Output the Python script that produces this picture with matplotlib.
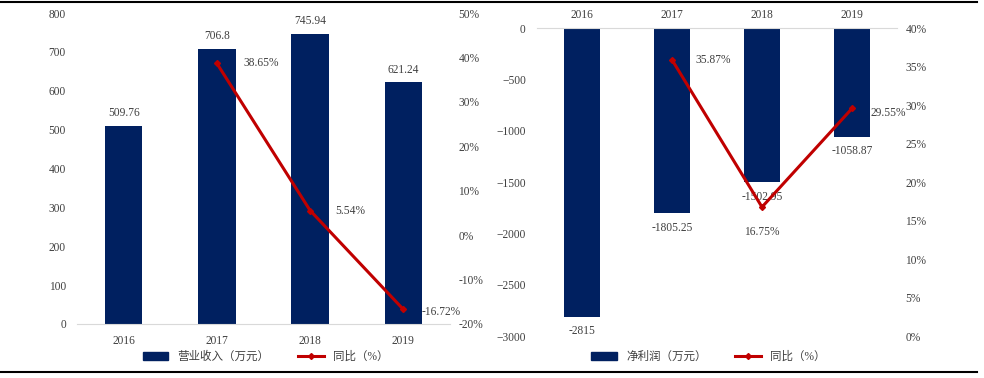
import matplotlib
matplotlib.use('Agg')
from matplotlib import pyplot as plt
from matplotlib.lines import Line2D
from matplotlib.patches import Patch
import numpy as np

plt.rcParams['font.family'] = ['Liberation Serif', 'Noto Sans CJK SC', 'DejaVu Sans']

years = ['2016', '2017', '2018', '2019']
revenue = [509.76, 706.8, 745.94, 621.24]
revenue_yoy = [None, 38.65, 5.54, -16.72]
profit = [-2815, -1805.25, -1502.95, -1058.87]
profit_yoy = [None, 35.87, 16.75, 29.55]

navy = '#002060'
red = '#C00000'
grey = '#D9D9D9'
txt = '#404040'
fs = 8.3

fig = plt.figure(figsize=(9.84, 3.78), dpi=100)
x = np.arange(len(years))

# ---- left chart: 营业收入
ax1 = fig.add_axes([0.0783, 0.1429, 0.379, 0.8227])
ax1.bar(x, revenue, width=0.4, color=navy)
ax1.set_xlim(-0.5, 3.5)
ax1.set_ylim(0, 800)
ax1.set_yticks(np.arange(0, 801, 100))
ax1.set_xticks(x)
ax1.set_xticklabels(years)
for s in ['top', 'right', 'left']:
    ax1.spines[s].set_visible(False)
ax1.spines['bottom'].set_color(grey)
ax1.tick_params(length=0, labelsize=fs, colors=txt, pad=8)
for i, v in enumerate(revenue):
    ax1.annotate(f'{v:g}', (i, v), xytext=(0, 5), textcoords='offset points',
                 ha='center', va='bottom', fontsize=fs, color=txt)

ax1b = ax1.twinx()
xs = [i for i, v in enumerate(revenue_yoy) if v is not None]
ys = [v for v in revenue_yoy if v is not None]
ax1b.plot(xs, ys, color=red, lw=2.2, marker='D', ms=3)
ax1b.set_ylim(-20, 50)
ax1b.set_yticks(np.arange(-20, 51, 10))
ax1b.set_yticklabels([f'{t}%' for t in range(-20, 51, 10)])
for s in ['top', 'right', 'left', 'bottom']:
    ax1b.spines[s].set_visible(False)
ax1b.tick_params(length=0, labelsize=fs, colors=txt, pad=6)
offs = [(19, 0), (18, 0), (13, -2)]
for (xi, yi), (dx, dy) in zip(zip(xs, ys), offs):
    ax1b.annotate(f'{yi:.2f}%', (xi, yi), xytext=(dx, dy), textcoords='offset points',
                  ha='left', va='center', fontsize=fs, color=txt)

fig.legend(handles=[Patch(color=navy, label='营业收入（万元）'),
                    Line2D([], [], color=red, lw=2.2, marker='D', ms=3, label='同比（%）')],
           loc='center', bbox_to_anchor=(0.27, 0.055), ncol=2, frameon=False,
           fontsize=fs, handlelength=2.2, columnspacing=2.5, labelcolor=txt)

# ---- right chart: 净利润
ax2 = fig.add_axes([0.5457, 0.1111, 0.3659, 0.8148])
ax2.bar(x, profit, width=0.4, color=navy)
ax2.set_xlim(-0.5, 3.5)
ax2.set_ylim(-3000, 0)
ax2.set_yticks(np.arange(-3000, 1, 500))
ax2.set_xticks(x)
ax2.set_xticklabels(years)
ax2.xaxis.tick_top()
for s in ['bottom', 'right', 'left']:
    ax2.spines[s].set_visible(False)
ax2.spines['top'].set_color(grey)
ax2.tick_params(length=0, labelsize=fs, colors=txt, pad=8)
ax2.tick_params(axis='x', pad=5)
for i, v in enumerate(profit):
    ax2.annotate(f'{v:g}', (i, v), xytext=(0, -6), textcoords='offset points',
                 ha='center', va='top', fontsize=fs, color=txt)

ax2b = ax2.twinx()
xs = [i for i, v in enumerate(profit_yoy) if v is not None]
ys = [v for v in profit_yoy if v is not None]
ax2b.plot(xs, ys, color=red, lw=2.2, marker='D', ms=3)
ax2b.set_ylim(0, 40)
ax2b.set_yticks(np.arange(0, 41, 5))
ax2b.set_yticklabels([f'{t}%' for t in range(0, 41, 5)])
for s in ['top', 'right', 'left', 'bottom']:
    ax2b.spines[s].set_visible(False)
ax2b.tick_params(length=0, labelsize=fs, colors=txt, pad=6)
offs = [(17, 0, 'left', 'center'), (0, -14, 'center', 'top'), (13, -3, 'left', 'center')]
for (xi, yi), (dx, dy, ha, va) in zip(zip(xs, ys), offs):
    ax2b.annotate(f'{yi:.2f}%', (xi, yi), xytext=(dx, dy), textcoords='offset points',
                  ha=ha, va=va, fontsize=fs, color=txt)

fig.legend(handles=[Patch(color=navy, label='净利润（万元）'),
                    Line2D([], [], color=red, lw=2.2, marker='D', ms=3, label='同比（%）')],
           loc='center', bbox_to_anchor=(0.72, 0.055), ncol=2, frameon=False,
           fontsize=fs, handlelength=2.2, columnspacing=2.5, labelcolor=txt)

# black rules top and bottom
fig.add_artist(Line2D([0, 0.993], [0.995, 0.995], color='black', lw=1.5))
fig.add_artist(Line2D([0, 0.993], [0.016, 0.016], color='black', lw=1.5))

fig.savefig('out.png', dpi=100)
